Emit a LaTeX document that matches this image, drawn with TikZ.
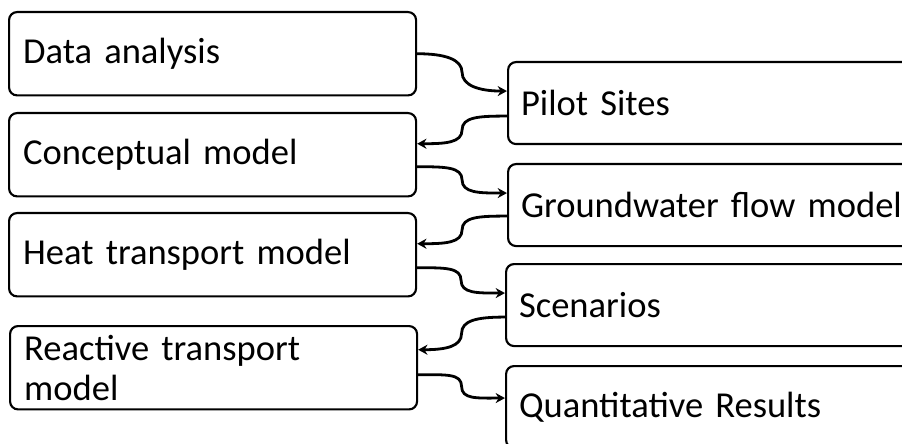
\documentclass[tikz,border=0pt]{standalone}
\usepackage{fontspec}
\setmainfont{Carlito}[WordSpace=0.8]
\usetikzlibrary{positioning,arrows.meta,calc}
\tikzset{
  stepbox/.style={draw=black,fill=white,line width=1.6pt,rounded corners=6pt,anchor=north west,align=left,
    font=\fontsize{27.4pt}{30pt}\selectfont,inner ysep=4pt},
  leftbox/.style={stepbox,minimum width=305.25pt,minimum height=62.5pt,text width=284pt},
  rightbox/.style={stepbox,minimum width=337.5pt,minimum height=61.5pt,text width=318pt},
  flow/.style={-{Stealth[length=7pt,width=7.5pt]},draw=black,line width=2.1pt},
  link/.style={flow,to path={.. controls +(#1:28) and +(90:13) .. ($(\tikztostart)!.5!(\tikztotarget)$)
    .. controls +(-90:13) and +({#1+180}:28) .. (\tikztotarget)}}}

\begin{document}
\begin{tikzpicture}[x=0.75pt,y=0.75pt]
  \path[use as bounding box,clip] (0,0) rectangle (902,443);
  % left column
  \node[leftbox] (da) at (8,432) {Data analysis};
  \node[leftbox] (cm) at (8,331) {Conceptual model};
  \node[leftbox] (ht) at (8,231) {Heat transport model};
  \node[leftbox] (rt) at (9,118) {Reactive transport\\model};
  % right column
  \node[rightbox] (ps) at (507,382) {Pilot Sites};
  \node[rightbox] (gw) at (507,280) {Groundwater flow model};
  \node[rightbox] (sc) at (505,180) {Scenarios};
  \node[rightbox] (qr) at (505,78) {Quantitative Results};
  % ports
  \coordinate (ps-in) at ($(ps.west)+(0,12)$);  \coordinate (ps-out) at ($(ps.west)+(0,-13)$);
  \coordinate (cm-in) at ($(cm.east)+(0,11)$);  \coordinate (cm-out) at ($(cm.east)+(0,-12)$);
  \coordinate (gw-in) at ($(gw.west)+(0,12)$);  \coordinate (gw-out) at ($(gw.west)+(0,-11)$);
  \coordinate (ht-in) at ($(ht.east)+(0,11)$);  \coordinate (ht-out) at ($(ht.east)+(0,-13)$);
  \coordinate (sc-in) at ($(sc.west)+(0,12)$);  \coordinate (sc-out) at ($(sc.west)+(0,-12)$);
  \coordinate (rt-in) at ($(rt.east)+(0,18)$);  \coordinate (rt-out) at ($(rt.east)+(0,-7)$);
  \coordinate (qr-in) at ($(qr.west)+(0,9)$);
  % zig-zag links
  \draw[link=0] (da.east) to (ps-in);
  \draw[link=180] (ps-out) to (cm-in);
  \draw[link=0] (cm-out) to (gw-in);
  \draw[link=180] (gw-out) to (ht-in);
  \draw[link=0] (ht-out) to (sc-in);
  \draw[link=180] (sc-out) to (rt-in);
  \draw[link=0] (rt-out) to (qr-in);
\end{tikzpicture}
\end{document}
